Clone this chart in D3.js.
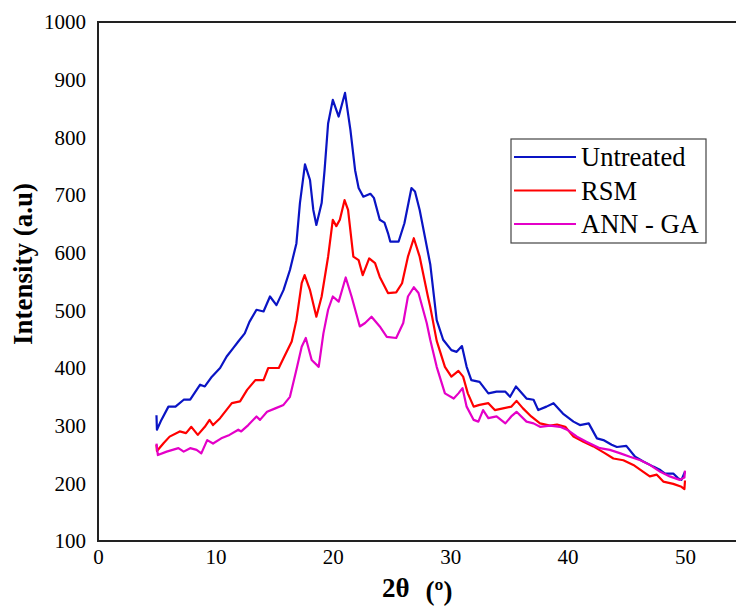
<!DOCTYPE html>
<html>
<head>
<meta charset="utf-8">
<script src="https://cdn.jsdelivr.net/npm/d3@7"></script>
<style>
  body { margin: 0; background: #fff; }
  svg text { font-family: "Liberation Serif", "Times New Roman", serif; fill: #000; }
</style>
</head>
<body>
<div id="chart"></div>
<script>
// [2theta, intensity]
var untreated = [[4.98,318],[5.02,293],[5.4,310],[6.0,333],[6.6,333],[7.3,345],[7.85,345],[8.7,371],[9.1,368],
  [9.7,385],[10.4,400],[10.96,420],[11.5,434],[11.95,446],[12.5,460],[12.9,480],[13.5,501],[14.1,498],[14.65,524],
  [15.2,509],[15.8,535],[16.35,570],[16.9,616],[17.2,686],[17.63,753],[18.06,726],[18.34,674],[18.6,648],[19.05,686],
  [19.3,743],[19.6,824],[20.0,865],[20.5,836],[21.04,877],[21.5,813],[21.9,743],[22.2,712],[22.6,697],[23.2,702],
  [23.5,695],[24.0,657],[24.4,652],[24.7,634],[24.9,619],[25.6,619],[26.1,651],[26.7,712],[27.0,706],[27.4,674],
  [28.3,580],[28.85,483],[29.4,449],[30.1,431],[30.55,428],[31.0,438],[31.4,402],[31.8,379],[32.5,376],[33.25,356],
  [33.95,359],[34.7,359],[35.1,350],[35.6,368],[36.5,347],[37.1,345],[37.5,327],[38.2,333],[38.8,339],[39.6,321],
  [40.5,307],[41.05,301],[41.8,304],[42.5,278],[43.05,275],[43.75,267],[44.2,263],[45.0,265],[45.75,246],[46.45,238],
  [47.3,229],[47.9,223],[48.3,217],[49.0,217],[49.4,209],[49.7,206],[50.0,220]];

var rsm = [[4.98,267],[5.02,256],[5.6,270],[6.1,281],[6.96,290],[7.5,287],[7.95,298],[8.5,284],[9.1,298],[9.5,310],
  [9.8,301],[10.4,313],[11.4,339],[12.1,342],[12.7,362],[13.4,379],[14.1,379],[14.5,400],[15.4,400],[15.8,417],
  [16.5,446],[16.9,483],[17.35,547],[17.6,561],[18.06,535],[18.6,489],[19.05,524],[19.6,593],[20.0,657],[20.3,646],
  [20.6,657],[21.0,691],[21.3,674],[21.75,593],[22.2,587],[22.55,561],[23.1,590],[23.6,582],[24.0,558],[24.7,530],
  [25.4,531],[25.9,547],[26.4,593],[26.9,625],[27.4,593],[28.1,524],[28.3,506],[28.85,447],[29.55,402],[30.1,385],
  [30.7,395],[31.1,385],[31.5,356],[32.0,333],[32.5,336],[33.25,339],[33.8,327],[34.5,330],[35.2,333],[35.65,343],
  [36.2,330],[36.9,316],[37.65,304],[38.5,300],[39.1,302],[39.8,298],[40.5,281],[41.35,272],[42.2,264],[43.2,252],
  [43.9,243],[44.75,240],[45.6,232],[46.45,220],[47.0,212],[47.6,215],[48.15,203],[49.0,199],[49.7,194],[49.95,190],
  [50.0,205]];

var annGa = [[4.98,269],[5.1,249],[5.85,255],[6.85,261],[7.3,255],[7.85,261],[8.4,258],[8.8,252],[9.3,275],[9.8,269],
  [10.5,278],[11.2,284],[11.95,293],[12.2,290],[12.8,301],[13.5,316],[13.8,310],[14.4,324],[15.1,330],[15.8,336],
  [16.35,350],[16.9,397],[17.35,437],[17.7,452],[18.2,414],[18.8,402],[19.2,460],[19.6,501],[20.0,524],[20.5,515],
  [21.1,557],[21.6,524],[22.3,472],[22.75,478],[23.3,489],[24.0,472],[24.6,454],[25.4,452],[26.0,478],[26.4,524],
  [26.9,540],[27.3,530],[28.0,478],[28.3,449],[28.85,402],[29.55,356],[30.3,347],[30.7,356],[31.05,365],[31.4,333],
  [32.0,310],[32.4,307],[32.8,327],[33.25,313],[33.95,316],[34.7,304],[35.2,316],[35.65,324],[36.5,307],[37.1,304],
  [37.65,298],[38.5,300],[39.35,298],[40.05,292],[40.8,281],[41.6,272],[42.75,261],[43.6,258],[44.5,252],[45.3,246],
  [46.2,240],[47.0,232],[47.9,220],[48.7,212],[49.55,206],[49.95,210],[50.0,222]];

var seriesNames = ["Untreated", "RSM", "ANN - GA"];
var seriesColors = ["#0a14c4", "#ff0000", "#e400c8"];
var xTicks = [0, 10, 20, 30, 40, 50];
var yTicks = [100, 200, 300, 400, 500, 600, 700, 800, 900, 1000];

var W = 736, H = 606;
var margin = {top: 22, left: 98, bottom: 65};
var serif = "'Liberation Serif', 'Times New Roman', serif";

var x = d3.scaleLinear().domain([0, 55]).range([margin.left, margin.left + 55 * 11.74]);
var y = d3.scaleLinear().domain([100, 1000]).range([H - margin.bottom, margin.top]);

var svg = d3.select("#chart").append("svg")
  .attr("width", W)
  .attr("height", H);

// frame
svg.append("rect")
  .attr("x", x(0)).attr("y", y(1000))
  .attr("width", x(55) - x(0)).attr("height", y(100) - y(1000))
  .attr("fill", "none").attr("stroke", "#222").attr("stroke-width", 2);

// axes
var gy = svg.append("g")
  .attr("transform", "translate(" + (x(0) - 12) + ",0)")
  .call(d3.axisLeft(y).tickValues(yTicks).tickSize(0).tickPadding(0).tickFormat(d3.format("d")))
  .attr("font-family", serif).attr("font-size", 21);
gy.select(".domain").remove();
gy.selectAll("text").attr("fill", "#000");

var gx = svg.append("g")
  .attr("transform", "translate(0," + (y(100) + 8) + ")")
  .call(d3.axisBottom(x).tickValues(xTicks).tickSize(0).tickPadding(0).tickFormat(d3.format("d")))
  .attr("font-family", serif).attr("font-size", 21);
gx.select(".domain").remove();
gx.selectAll("text").attr("fill", "#000");

// lines
var line = d3.line()
  .x(function(d) { return x(d[0]); })
  .y(function(d) { return y(d[1]); });

[untreated, rsm, annGa].forEach(function(data, i) {
  svg.append("path")
    .datum(data)
    .attr("fill", "none")
    .attr("stroke", seriesColors[i])
    .attr("stroke-width", 2.2)
    .attr("stroke-linejoin", "round")
    .attr("d", line);
});

// axis titles
var xt = svg.append("text")
  .attr("x", 382).attr("y", 597)
  .attr("font-family", serif)
  .style("font-size", "27px").style("font-weight", "bold");
xt.append("tspan").text("2θ");
xt.append("tspan").attr("dx", 16).attr("dy", 3).text("(º)");

svg.append("text")
  .attr("transform", "translate(32,264) rotate(-90)")
  .attr("text-anchor", "middle")
  .attr("font-family", serif)
  .style("font-size", "27px").style("font-weight", "bold")
  .text("Intensity (a.u)");

// legend
var legend = svg.append("g").attr("font-family", serif);
legend.append("rect")
  .attr("x", 511).attr("y", 139).attr("width", 195).attr("height", 104)
  .attr("fill", "#fff").attr("stroke", "#444").attr("stroke-width", 1.2);

seriesNames.forEach(function(name, i) {
  var ly = 157 + i * 33.5;
  legend.append("line")
    .attr("x1", 514).attr("x2", 576).attr("y1", ly).attr("y2", ly)
    .attr("stroke", seriesColors[i]).attr("stroke-width", 2.2);
  legend.append("text")
    .attr("x", 581).attr("y", ly + 9)
    .style("font-size", "26.5px")
    .text(name);
});
</script>
</body>
</html>
